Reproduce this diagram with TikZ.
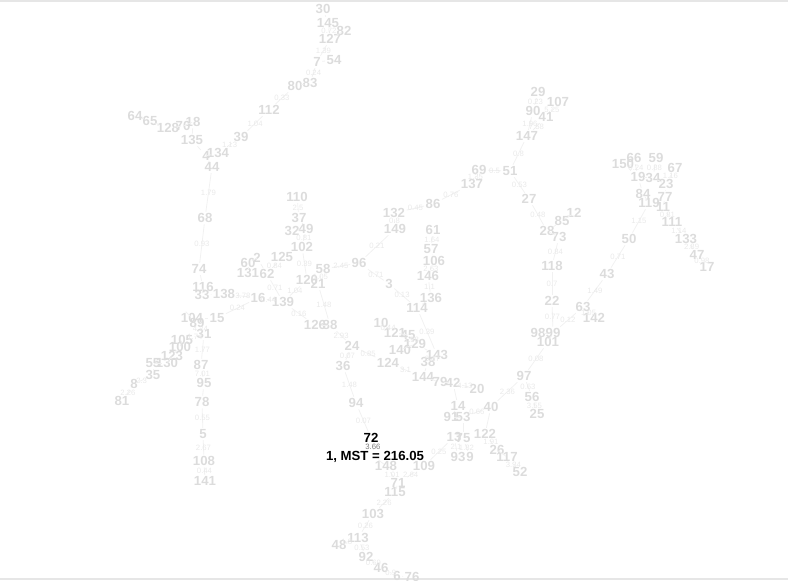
\documentclass[tikz,border=0pt]{standalone}
\usepackage{fontspec}
\setmainfont{Liberation Sans}
\usetikzlibrary{positioning}
\definecolor{MstFaint}{RGB}{220,220,220}
\definecolor{MstWeight}{RGB}{233,233,233}
\definecolor{MstEdge}{RGB}{241,241,241}
\definecolor{MstFrame}{RGB}{230,230,230}
\definecolor{MstInk}{RGB}{0,0,0}
\definecolor{MstMid}{RGB}{125,125,125}
\tikzset{
  mst/label/.style={
    text=MstFaint,
    font=\fontsize{9.9}{10}\selectfont\bfseries,
    inner sep=1pt
  },
  mst/current/.style={
    text=MstInk,
    font=\fontsize{9.9}{10}\selectfont\bfseries,
    inner sep=1pt
  },
  mst/weight/.style={text=MstWeight, font=\fontsize{5.8}{6}\selectfont, inner sep=0.5pt},
  mst/curweight/.style={mst/weight, text=MstMid},
  mst/edge/.style={draw=MstEdge, line width=0.6pt},
  mst/frame/.style={draw=MstFrame, line width=1.2pt}
}

\begin{document}
\begin{tikzpicture}[x=0.75pt,y=-0.75pt]
  \useasboundingbox (0,0) rectangle (788,581);
  \draw[mst/frame] (0,1) -- (788,1);
  \draw[mst/frame] (0,579) -- (788,579);

  \node[mst/current] (v1) at (375,457) {1, MST = 216.05};
  \node[mst/label] (v2) at (257,258) {2};
  \node[mst/label] (v3) at (389,284) {3};
  \node[mst/label] (v4) at (206,156) {4};
  \node[mst/label] (v5) at (203,434) {5};
  \node[mst/label] (v6) at (397,576) {6};
  \node[mst/label] (v7) at (317,62) {7};
  \node[mst/label] (v8) at (134,384) {8};
  \node[mst/label] (v9) at (470,457) {9};
  \node[mst/label] (v10) at (381,323) {10};
  \node[mst/label] (v11) at (663,207) {11};
  \node[mst/label] (v12) at (574,213) {12};
  \node[mst/label] (v13) at (454,437) {13};
  \node[mst/label] (v14) at (458,406) {14};
  \node[mst/label] (v15) at (217,318) {15};
  \node[mst/label] (v16) at (258,298) {16};
  \node[mst/label] (v17) at (707,267) {17};
  \node[mst/label] (v18) at (193,122) {18};
  \node[mst/label] (v19) at (638,177) {19};
  \node[mst/label] (v20) at (477,389) {20};
  \node[mst/label] (v21) at (318,284) {21};
  \node[mst/label] (v22) at (552,301) {22};
  \node[mst/label] (v23) at (666,184) {23};
  \node[mst/label] (v24) at (352,346) {24};
  \node[mst/label] (v25) at (537,414) {25};
  \node[mst/label] (v26) at (497,450) {26};
  \node[mst/label] (v27) at (529,199) {27};
  \node[mst/label] (v28) at (547,231) {28};
  \node[mst/label] (v29) at (538,92) {29};
  \node[mst/label] (v30) at (323,9) {30};
  \node[mst/label] (v31) at (204,334) {31};
  \node[mst/label] (v32) at (292,231) {32};
  \node[mst/label] (v33) at (202,295) {33};
  \node[mst/label] (v34) at (653,178) {34};
  \node[mst/label] (v35) at (153,375) {35};
  \node[mst/label] (v36) at (343,366) {36};
  \node[mst/label] (v37) at (299,218) {37};
  \node[mst/label] (v38) at (428,362) {38};
  \node[mst/label] (v39) at (241,137) {39};
  \node[mst/label] (v40) at (491,407) {40};
  \node[mst/label] (v41) at (546,117) {41};
  \node[mst/label] (v42) at (453,383) {42};
  \node[mst/label] (v43) at (607,274) {43};
  \node[mst/label] (v44) at (212,167) {44};
  \node[mst/label] (v45) at (408,335) {45};
  \node[mst/label] (v46) at (381,568) {46};
  \node[mst/label] (v47) at (697,255) {47};
  \node[mst/label] (v48) at (339,545) {48};
  \node[mst/label] (v49) at (306,229) {49};
  \node[mst/label] (v50) at (629,239) {50};
  \node[mst/label] (v51) at (510,171) {51};
  \node[mst/label] (v52) at (520,472) {52};
  \node[mst/label] (v53) at (463,417) {53};
  \node[mst/label] (v54) at (334,60) {54};
  \node[mst/label] (v55) at (153,363) {55};
  \node[mst/label] (v56) at (532,397) {56};
  \node[mst/label] (v57) at (431,249) {57};
  \node[mst/label] (v58) at (323,269) {58};
  \node[mst/label] (v59) at (656,158) {59};
  \node[mst/label] (v60) at (248,263) {60};
  \node[mst/label] (v61) at (433,230) {61};
  \node[mst/label] (v62) at (267,274) {62};
  \node[mst/label] (v63) at (583,307) {63};
  \node[mst/label] (v64) at (135,116) {64};
  \node[mst/label] (v65) at (150,121) {65};
  \node[mst/label] (v66) at (634,158) {66};
  \node[mst/label] (v67) at (675,168) {67};
  \node[mst/label] (v68) at (205,218) {68};
  \node[mst/label] (v69) at (479,170) {69};
  \node[mst/label] (v70) at (183,126) {70};
  \node[mst/label] (v71) at (398,483) {71};
  \node[mst/current] (v72) at (371,438) {72};
  \node[mst/label] (v73) at (559,237) {73};
  \node[mst/label] (v74) at (199,269) {74};
  \node[mst/label] (v75) at (463,438) {75};
  \node[mst/label] (v76) at (412,577) {76};
  \node[mst/label] (v77) at (665,197) {77};
  \node[mst/label] (v78) at (202,402) {78};
  \node[mst/label] (v79) at (440,382) {79};
  \node[mst/label] (v80) at (295,86) {80};
  \node[mst/label] (v81) at (122,401) {81};
  \node[mst/label] (v82) at (344,31) {82};
  \node[mst/label] (v83) at (310,83) {83};
  \node[mst/label] (v84) at (643,194) {84};
  \node[mst/label] (v85) at (562,221) {85};
  \node[mst/label] (v86) at (433,204) {86};
  \node[mst/label] (v87) at (201,365) {87};
  \node[mst/label] (v88) at (330,325) {88};
  \node[mst/label] (v89) at (197,323) {89};
  \node[mst/label] (v90) at (533,111) {90};
  \node[mst/label] (v91) at (451,417) {91};
  \node[mst/label] (v92) at (366,557) {92};
  \node[mst/label] (v93) at (458,457) {93};
  \node[mst/label] (v94) at (356,403) {94};
  \node[mst/label] (v95) at (204,383) {95};
  \node[mst/label] (v96) at (359,263) {96};
  \node[mst/label] (v97) at (524,376) {97};
  \node[mst/label] (v98) at (538,333) {98};
  \node[mst/label] (v99) at (553,333) {99};
  \node[mst/label] (v100) at (180,347) {100};
  \node[mst/label] (v101) at (548,342) {101};
  \node[mst/label] (v102) at (302,247) {102};
  \node[mst/label] (v103) at (373,514) {103};
  \node[mst/label] (v104) at (192,318) {104};
  \node[mst/label] (v105) at (182,340) {105};
  \node[mst/label] (v106) at (434,261) {106};
  \node[mst/label] (v107) at (558,102) {107};
  \node[mst/label] (v108) at (204,461) {108};
  \node[mst/label] (v109) at (424,466) {109};
  \node[mst/label] (v110) at (297,197) {110};
  \node[mst/label] (v111) at (672,222) {111};
  \node[mst/label] (v112) at (269,110) {112};
  \node[mst/label] (v113) at (358,538) {113};
  \node[mst/label] (v114) at (417,308) {114};
  \node[mst/label] (v115) at (395,492) {115};
  \node[mst/label] (v116) at (203,287) {116};
  \node[mst/label] (v117) at (507,457) {117};
  \node[mst/label] (v118) at (552,266) {118};
  \node[mst/label] (v119) at (649,203) {119};
  \node[mst/label] (v120) at (307,280) {120};
  \node[mst/label] (v121) at (395,333) {121};
  \node[mst/label] (v122) at (485,434) {122};
  \node[mst/label] (v123) at (172,356) {123};
  \node[mst/label] (v124) at (388,363) {124};
  \node[mst/label] (v125) at (282,257) {125};
  \node[mst/label] (v126) at (315,325) {126};
  \node[mst/label] (v127) at (330,39) {127};
  \node[mst/label] (v128) at (168,128) {128};
  \node[mst/label] (v129) at (415,344) {129};
  \node[mst/label] (v130) at (167,363) {130};
  \node[mst/label] (v131) at (248,273) {131};
  \node[mst/label] (v132) at (394,213) {132};
  \node[mst/label] (v133) at (686,239) {133};
  \node[mst/label] (v134) at (218,153) {134};
  \node[mst/label] (v135) at (192,140) {135};
  \node[mst/label] (v136) at (431,298) {136};
  \node[mst/label] (v137) at (472,184) {137};
  \node[mst/label] (v138) at (224,294) {138};
  \node[mst/label] (v139) at (283,302) {139};
  \node[mst/label] (v140) at (400,350) {140};
  \node[mst/label] (v141) at (205,481) {141};
  \node[mst/label] (v142) at (594,318) {142};
  \node[mst/label] (v143) at (437,355) {143};
  \node[mst/label] (v144) at (423,377) {144};
  \node[mst/label] (v145) at (328,23) {145};
  \node[mst/label] (v146) at (428,276) {146};
  \node[mst/label] (v147) at (527,136) {147};
  \node[mst/label] (v148) at (386,466) {148};
  \node[mst/label] (v149) at (395,229) {149};
  \node[mst/label] (v150) at (623,164) {150};

  \draw[mst/edge] (v30) -- (v145);
  \draw[mst/edge] (v145) -- node[mst/weight] {0.72} (v127);
  \draw[mst/edge] (v82) -- (v127);
  \draw[mst/edge] (v127) -- node[mst/weight] {1.39} (v7);
  \draw[mst/edge] (v7) -- (v54);
  \draw[mst/edge] (v7) -- node[mst/weight] {0.24} (v83);
  \draw[mst/edge] (v83) -- (v80);
  \draw[mst/edge] (v80) -- node[mst/weight] {0.33} (v112);
  \draw[mst/edge] (v112) -- node[mst/weight] {1.04} (v39);
  \draw[mst/edge] (v39) -- node[mst/weight] {1.13} (v134);
  \draw[mst/edge] (v134) -- (v4);
  \draw[mst/edge] (v4) -- (v44);
  \draw[mst/edge] (v4) -- (v135);
  \draw[mst/edge] (v135) -- (v18);
  \draw[mst/edge] (v18) -- (v70);
  \draw[mst/edge] (v70) -- (v128);
  \draw[mst/edge] (v128) -- (v65);
  \draw[mst/edge] (v65) -- (v64);
  \draw[mst/edge] (v44) -- node[mst/weight] {1.79} (v68);
  \draw[mst/edge] (v68) -- node[mst/weight] {0.93} (v74);
  \draw[mst/edge] (v74) -- (v116);
  \draw[mst/edge] (v116) -- (v33);
  \draw[mst/edge] (v33) -- (v138);
  \draw[mst/edge] (v138) -- node[mst/weight] {3.78} (v16);
  \draw[mst/edge] (v16) -- node[mst/weight] {0.44} (v139);
  \draw[mst/edge] (v62) -- node[mst/weight] {0.71} (v139);
  \draw[mst/edge] (v139) -- node[mst/weight] {1.04} (v120);
  \draw[mst/edge] (v102) -- node[mst/weight] {0.39} (v120);
  \draw[mst/edge] (v58) -- node[mst/weight] {1.05} (v21);
  \draw[mst/edge] (v58) -- node[mst/weight] {2.45} (v96);
  \draw[mst/edge] (v21) -- node[mst/weight] {1.48} (v88);
  \draw[mst/edge] (v139) -- node[mst/weight] {0.16} (v126);
  \draw[mst/edge] (v126) -- (v88);
  \draw[mst/edge] (v88) -- node[mst/weight] {2.93} (v24);
  \draw[mst/edge] (v24) -- node[mst/weight] {0.07} (v36);
  \draw[mst/edge] (v36) -- node[mst/weight] {1.48} (v94);
  \draw[mst/edge] (v94) -- node[mst/weight] {0.07} (v72);
  \draw[mst/edge] (v72) -- node[mst/curweight] {3.66} (v1);
  \draw[mst/edge] (v1) -- (v148);
  \draw[mst/edge] (v148) -- node[mst/weight] {1.01} (v71);
  \draw[mst/edge] (v109) -- node[mst/weight] {2.64} (v71);
  \draw[mst/edge] (v71) -- (v115);
  \draw[mst/edge] (v115) -- node[mst/weight] {2.26} (v103);
  \draw[mst/edge] (v103) -- node[mst/weight] {0.26} (v113);
  \draw[mst/edge] (v113) -- node[mst/weight] {1.8} (v48);
  \draw[mst/edge] (v113) -- node[mst/weight] {0.53} (v92);
  \draw[mst/edge] (v92) -- node[mst/weight] {0.69} (v46);
  \draw[mst/edge] (v46) -- node[mst/weight] {0.9} (v6);
  \draw[mst/edge] (v6) -- (v76);
  \draw[mst/edge] (v16) -- node[mst/weight] {0.24} (v15);
  \draw[mst/edge] (v15) -- (v104);
  \draw[mst/edge] (v104) -- (v89);
  \draw[mst/edge] (v89) -- node[mst/weight] {4.24} (v31);
  \draw[mst/edge] (v31) -- node[mst/weight] {1.74} (v105);
  \draw[mst/edge] (v105) -- (v100);
  \draw[mst/edge] (v100) -- (v123);
  \draw[mst/edge] (v123) -- (v130);
  \draw[mst/edge] (v130) -- (v55);
  \draw[mst/edge] (v55) -- (v35);
  \draw[mst/edge] (v35) -- node[mst/weight] {2.3} (v8);
  \draw[mst/edge] (v8) -- node[mst/weight] {2.26} (v81);
  \draw[mst/edge] (v31) -- node[mst/weight] {1.77} (v87);
  \draw[mst/edge] (v87) -- node[mst/weight] {7.01} (v95);
  \draw[mst/edge] (v95) -- (v78);
  \draw[mst/edge] (v78) -- node[mst/weight] {0.55} (v5);
  \draw[mst/edge] (v5) -- node[mst/weight] {2.67} (v108);
  \draw[mst/edge] (v108) -- node[mst/weight] {0.44} (v141);
  \draw[mst/edge] (v110) -- node[mst/weight] {2.5} (v37);
  \draw[mst/edge] (v37) -- (v49);
  \draw[mst/edge] (v32) -- (v49);
  \draw[mst/edge] (v49) -- node[mst/weight] {0.81} (v102);
  \draw[mst/edge] (v125) -- node[mst/weight] {0.84} (v62);
  \draw[mst/edge] (v62) -- (v2);
  \draw[mst/edge] (v2) -- (v60);
  \draw[mst/edge] (v60) -- (v131);
  \draw[mst/edge] (v96) -- node[mst/weight] {0.21} (v149);
  \draw[mst/edge] (v149) -- node[mst/weight] {0.8} (v132);
  \draw[mst/edge] (v132) -- node[mst/weight] {0.45} (v86);
  \draw[mst/edge] (v86) -- node[mst/weight] {0.76} (v137);
  \draw[mst/edge] (v137) -- node[mst/weight] {1.35} (v69);
  \draw[mst/edge] (v69) -- node[mst/weight] {0.5} (v51);
  \draw[mst/edge] (v51) -- node[mst/weight] {0.8} (v147);
  \draw[mst/edge] (v147) -- node[mst/weight] {1.96} (v90);
  \draw[mst/edge] (v90) -- node[mst/weight] {0.23} (v29);
  \draw[mst/edge] (v147) -- node[mst/weight] {7.58} (v41);
  \draw[mst/edge] (v41) -- node[mst/weight] {5.25} (v107);
  \draw[mst/edge] (v51) -- node[mst/weight] {0.53} (v27);
  \draw[mst/edge] (v27) -- node[mst/weight] {0.48} (v28);
  \draw[mst/edge] (v28) -- (v85);
  \draw[mst/edge] (v85) -- (v12);
  \draw[mst/edge] (v28) -- (v73);
  \draw[mst/edge] (v73) -- node[mst/weight] {0.84} (v118);
  \draw[mst/edge] (v118) -- node[mst/weight] {0.7} (v22);
  \draw[mst/edge] (v22) -- node[mst/weight] {0.77} (v99);
  \draw[mst/edge] (v99) -- node[mst/weight] {0.12} (v63);
  \draw[mst/edge] (v63) -- node[mst/weight] {1.05} (v142);
  \draw[mst/edge] (v63) -- node[mst/weight] {1.49} (v43);
  \draw[mst/edge] (v43) -- node[mst/weight] {0.71} (v50);
  \draw[mst/edge] (v50) -- node[mst/weight] {1.15} (v119);
  \draw[mst/edge] (v119) -- (v84);
  \draw[mst/edge] (v84) -- (v19);
  \draw[mst/edge] (v19) -- (v150);
  \draw[mst/edge] (v66) -- node[mst/weight] {0.24} (v19);
  \draw[mst/edge] (v19) -- (v34);
  \draw[mst/edge] (v34) -- node[mst/weight] {0.88} (v59);
  \draw[mst/edge] (v34) -- (v23);
  \draw[mst/edge] (v23) -- node[mst/weight] {1.16} (v67);
  \draw[mst/edge] (v23) -- (v77);
  \draw[mst/edge] (v77) -- (v11);
  \draw[mst/edge] (v11) -- node[mst/weight] {0.81} (v111);
  \draw[mst/edge] (v111) -- node[mst/weight] {1.14} (v133);
  \draw[mst/edge] (v133) -- node[mst/weight] {2.89} (v47);
  \draw[mst/edge] (v47) -- node[mst/weight] {0.98} (v17);
  \draw[mst/edge] (v99) -- (v98);
  \draw[mst/edge] (v99) -- (v101);
  \draw[mst/edge] (v101) -- node[mst/weight] {0.08} (v97);
  \draw[mst/edge] (v97) -- node[mst/weight] {0.63} (v56);
  \draw[mst/edge] (v56) -- node[mst/weight] {3.55} (v25);
  \draw[mst/edge] (v97) -- node[mst/weight] {2.36} (v40);
  \draw[mst/edge] (v40) -- node[mst/weight] {0.66} (v53);
  \draw[mst/edge] (v53) -- (v91);
  \draw[mst/edge] (v91) -- (v14);
  \draw[mst/edge] (v14) -- (v42);
  \draw[mst/edge] (v42) -- (v79);
  \draw[mst/edge] (v42) -- node[mst/weight] {4.13} (v20);
  \draw[mst/edge] (v79) -- (v144);
  \draw[mst/edge] (v144) -- node[mst/weight] {3.1} (v124);
  \draw[mst/edge] (v124) -- node[mst/weight] {0.85} (v24);
  \draw[mst/edge] (v144) -- (v38);
  \draw[mst/edge] (v38) -- node[mst/weight] {0.17} (v143);
  \draw[mst/edge] (v143) -- (v129);
  \draw[mst/edge] (v129) -- (v140);
  \draw[mst/edge] (v129) -- node[mst/weight] {1.58} (v45);
  \draw[mst/edge] (v45) -- (v121);
  \draw[mst/edge] (v121) -- node[mst/weight] {0.44} (v10);
  \draw[mst/edge] (v143) -- node[mst/weight] {0.39} (v114);
  \draw[mst/edge] (v114) -- (v136);
  \draw[mst/edge] (v136) -- node[mst/weight] {1.1} (v146);
  \draw[mst/edge] (v146) -- node[mst/weight] {2.63} (v106);
  \draw[mst/edge] (v106) -- (v57);
  \draw[mst/edge] (v57) -- node[mst/weight] {1.64} (v61);
  \draw[mst/edge] (v114) -- node[mst/weight] {0.13} (v3);
  \draw[mst/edge] (v3) -- node[mst/weight] {0.71} (v96);
  \draw[mst/edge] (v53) -- (v75);
  \draw[mst/edge] (v75) -- node[mst/weight] {1.82} (v9);
  \draw[mst/edge] (v13) -- node[mst/weight] {2.1} (v93);
  \draw[mst/edge] (v13) -- node[mst/weight] {0.25} (v109);
  \draw[mst/edge] (v40) -- (v122);
  \draw[mst/edge] (v122) -- node[mst/weight] {1.91} (v26);
  \draw[mst/edge] (v26) -- (v117);
  \draw[mst/edge] (v117) -- node[mst/weight] {3.34} (v52);
\end{tikzpicture}
\end{document}
